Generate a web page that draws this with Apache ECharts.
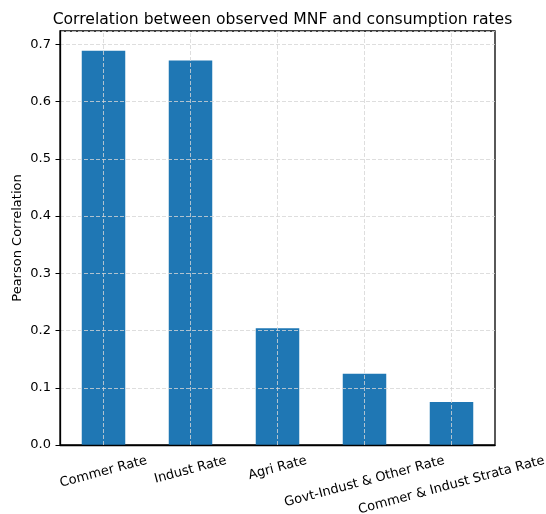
<!DOCTYPE html>
<html>
<head>
<meta charset="utf-8">
<script src="https://cdn.jsdelivr.net/npm/echarts@6/dist/echarts.min.js"></script>
<style>
html,body{margin:0;padding:0;background:#fff;}
#chart{width:546px;height:514px;}
</style>
</head>
<body>
<div id="chart"></div>
<script>
const categories = ["Commer Rate", "Indust Rate", "Agri Rate", "Govt-Indust & Other Rate", "Commer & Indust Strata Rate"];
const correlations = [0.689, 0.672, 0.204, 0.1245, 0.075];
const yTicks = [0, 0.1, 0.2, 0.3, 0.4, 0.5, 0.6, 0.7];
const titleText = "Correlation between observed MNF and consumption rates";
const yName = "Pearson Correlation";

const FONT = "DejaVu Sans";
const TICK_FS = 13;
const ROT = 15;
const gridLine = {color: "#d6d6d6", type: [4, 2], width: 0.8};

// Per-label rich style so each rotated label's bounding box is centred under its tick
const ctx = document.createElement("canvas").getContext("2d");
ctx.font = TICK_FS + "px '" + FONT + "'";
const th = ROT * Math.PI / 180;
const PAD = 8, LH = TICK_FS * 1.17;
const rich = {};
categories.forEach((c, i) => {
  const w = ctx.measureText(c).width;
  const H = w * Math.sin(th) + LH * Math.cos(th);
  const D = PAD + H / 2;
  rich["l" + i] = {
    fontFamily: FONT, fontSize: TICK_FS, color: "#000", lineHeight: LH,
    padding: [2 * D * Math.cos(th), 2 * D * Math.sin(th), 0, 0]
  };
});

const chart = echarts.init(document.getElementById("chart"), null, {renderer: "canvas"});
chart.setOption({
  animation: false,
  title: {
    text: titleText, left: 277.5, top: 7, textAlign: "center",
    textStyle: {fontFamily: FONT, fontSize: 15.6, fontWeight: "normal", color: "#000"}
  },
  grid: {left: 60, right: 51, top: 31, bottom: 69, containLabel: false, outerBoundsMode: "none",
    show: true, borderColor: "#000", borderWidth: 1.3, backgroundColor: "transparent"},
  xAxis: {
    type: "category", data: categories.map(c => ({value: c, textStyle: {align: "center", verticalAlign: "middle"}})), z: 3,
    axisLine: {lineStyle: {color: "#000", width: 1.3}},
    axisTick: {alignWithLabel: true, length: 4.5, lineStyle: {color: "#000"}},
    axisLabel: {rotate: ROT, margin: 0, interval: 0, hideOverlap: false,
      fontFamily: FONT, fontSize: TICK_FS, color: "#000",
      formatter: (v, i) => "{l" + i + "|" + v + "}", rich: rich},
    splitLine: {show: false}
  },
  yAxis: {
    type: "value", min: 0, max: 0.7235, interval: 0.1, z: 3,
    name: yName, nameLocation: "middle", nameGap: 35.5, nameRotate: 90, nameMoveOverlap: false,
    nameTextStyle: {fontFamily: FONT, fontSize: TICK_FS, color: "#000"},
    axisLine: {show: true, lineStyle: {color: "#000", width: 1.3}},
    axisTick: {show: true, length: 4.5, lineStyle: {color: "#000"}},
    axisLabel: {
      margin: 9, fontFamily: FONT, fontSize: TICK_FS, color: "#000", showMaxLabel: false,
      formatter: v => yTicks.some(t => Math.abs(t - v) < 1e-9) ? v.toFixed(1) : ""
    },
    splitLine: {show: true, lineStyle: gridLine}
  },
  series: [{
    type: "bar", data: correlations, barCategoryGap: "50%",
    itemStyle: {color: "#1f77b4"},
    markLine: {
      silent: true, symbol: "none", z: 4, label: {show: false},
      lineStyle: gridLine,
      data: categories.map(c => ({xAxis: c}))
    }
  }]
});
</script>
</body>
</html>
